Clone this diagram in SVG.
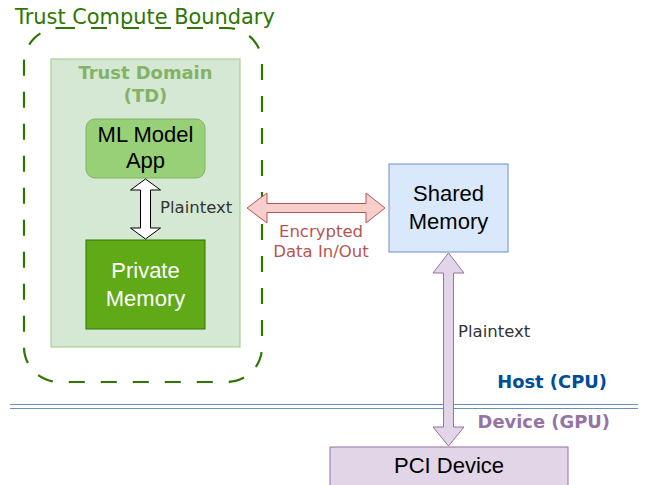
<svg xmlns="http://www.w3.org/2000/svg" width="645" height="485" viewBox="0 0 645 485">
<style>
.lbl{font-family:"DejaVu Sans",Verdana,sans-serif;font-size:16.5px}
.node{font-family:"Liberation Sans",Arial,sans-serif;font-size:22px;text-anchor:middle}
.bold{font-family:"DejaVu Sans",Verdana,sans-serif;font-size:17.9px;font-weight:bold}
</style>
<rect width="645" height="485" fill="#ffffff"/>
<g id="boundary">
<rect x="24" y="28" width="238" height="354" rx="35" ry="35" fill="none" stroke="#2D7600" stroke-width="2.2" stroke-dasharray="16 16"/>
<text x="15" y="24" font-family="DejaVu Sans,Verdana,sans-serif" font-size="20.9" fill="#2D7600">Trust Compute Boundary</text>
</g>
<g id="td">
<rect x="51" y="59" width="189" height="288" fill="#d5e8d4" stroke="#a9cf95" stroke-width="1.2"/>
<text class="bold" x="145.5" y="79" text-anchor="middle" fill="#82b366">Trust Domain</text>
<text class="bold" x="145.5" y="102" text-anchor="middle" fill="#82b366">(TD)</text>
</g>
<g id="mlapp">
<rect x="86" y="119" width="119" height="59" rx="9" fill="#97D077" stroke="#82b366"/>
<text class="node" x="145.5" y="142" fill="#000">ML Model</text>
<text class="node" x="145.5" y="168" fill="#000">App</text>
</g>
<g id="private">
<rect x="86" y="240" width="119" height="89" fill="#60a917" stroke="#2D7600"/>
<text class="node" x="145.5" y="278" fill="#ffffff">Private</text>
<text class="node" x="145.5" y="306" fill="#ffffff">Memory</text>
</g>
<g id="shared">
<rect x="389" y="164" width="119" height="88" fill="#dae8fc" stroke="#6c8ebf"/>
<text class="node" x="448.5" y="201" fill="#000">Shared</text>
<text class="node" x="448.5" y="229" fill="#000">Memory</text>
</g>
<g id="pci">
<rect x="330" y="447" width="238" height="50" fill="#e1d5e7" stroke="#9673a6"/>
<text class="node" x="449" y="473" fill="#000">PCI Device</text>
</g>
<g id="divider">
<line x1="10" y1="404.5" x2="638" y2="404.5" stroke="#6c8ebf" stroke-width="1"/>
<line x1="10" y1="408.5" x2="638" y2="408.5" stroke="#6c8ebf" stroke-width="1"/>
<text class="bold" x="607" y="388" text-anchor="end" fill="#004C99">Host (CPU)</text>
<text class="bold" x="610" y="428" text-anchor="end" fill="#9673a6">Device (GPU)</text>
</g>
<g id="connectors">
<path d="M145.5,179 L160.5,190 L150.5,190 L150.5,228 L160.5,228 L145.5,239 L130.5,228 L140.5,228 L140.5,190 L130.5,190 Z" fill="#ffffff" stroke="#000" stroke-width="1"/>
<text class="lbl" x="160" y="213" fill="#333333">Plaintext</text>
<path d="M247,208 L267,193 L267,203.5 L366,203.5 L366,193 L385,208 L366,223 L366,212.5 L267,212.5 L267,223 Z" fill="#f8cecc" stroke="#b85450" stroke-width="1"/>
<text class="lbl" x="321" y="237" text-anchor="middle" fill="#b85450">Encrypted</text>
<text class="lbl" x="321" y="257" text-anchor="middle" fill="#b85450">Data In/Out</text>
<path d="M448.5,253 L464,273 L453.5,273 L453.5,427 L464,427 L448.5,446 L433,427 L443.5,427 L443.5,273 L433,273 Z" fill="#e1d5e7" stroke="#9673a6" stroke-width="1"/>
<text class="lbl" x="458" y="337" fill="#333333">Plaintext</text>
</g>
</svg>
